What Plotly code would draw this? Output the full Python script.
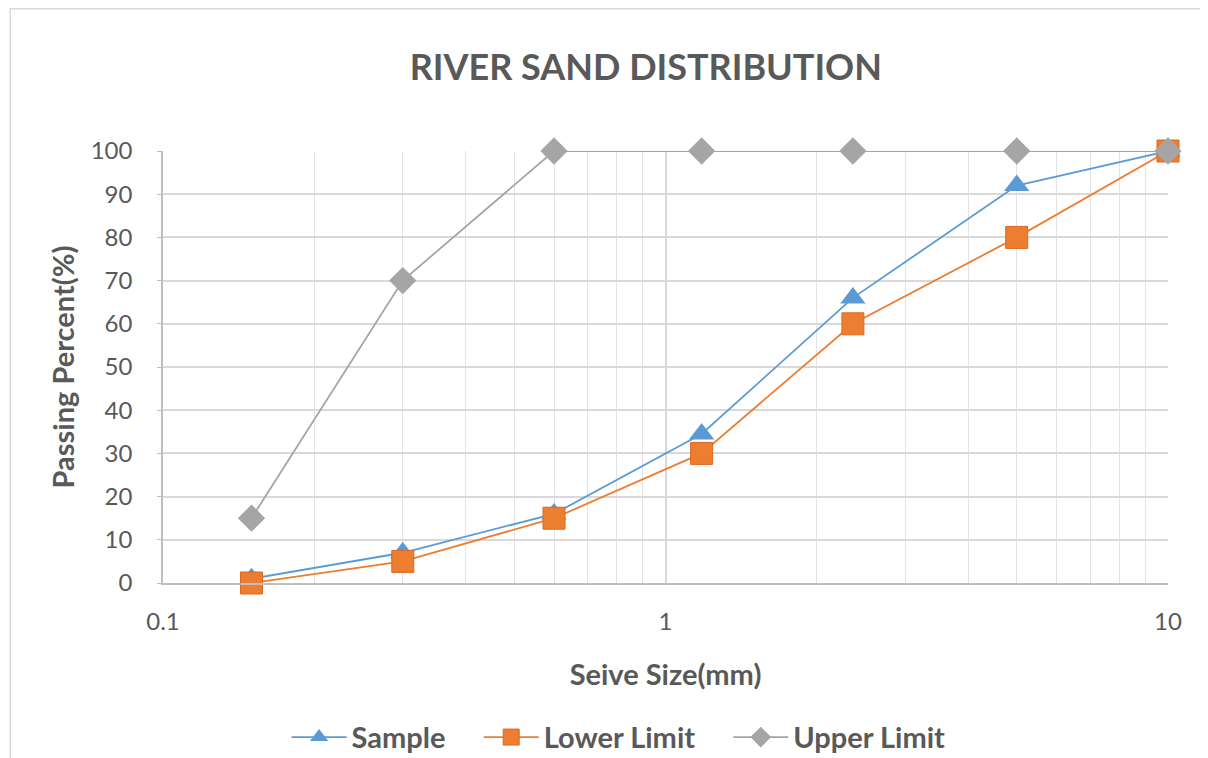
import plotly.graph_objects as go

sieve_sizes = [0.15, 0.3, 0.6, 1.18, 2.36, 5, 10]
sample = [1, 7, 16, 34.5, 66, 92, 100]
lower_limit = [0, 5, 15, 30, 60, 80, 100]
upper_limit = [15, 70, 100, 100, 100, 100, 100]

x_tickvals = [0.1, 1, 10]
x_ticktext = ["0.1", "1", "10"]

FONT = "Lato"
GREY_TXT = "#595959"
PAD = "\u00a0" * 4

fig = go.Figure()

fig.add_trace(go.Scatter(
    x=sieve_sizes, y=sample, name="Sample" + PAD, mode="lines+markers",
    line=dict(color="#5B9BD5", width=1.8),
    marker=dict(symbol="triangle-up", size=22, color="#5B9BD5"),
    cliponaxis=False,
))
fig.add_trace(go.Scatter(
    x=sieve_sizes, y=lower_limit, name="Lower Limit" + PAD, mode="lines+markers",
    line=dict(color="#ED7D31", width=1.8),
    marker=dict(symbol="square", size=22, color="#ED7D31",
                line=dict(color="#D86A20", width=1)),
    cliponaxis=False,
))
fig.add_trace(go.Scatter(
    x=sieve_sizes, y=upper_limit, name="Upper Limit", mode="lines+markers",
    line=dict(color="#A5A5A5", width=1.8),
    marker=dict(symbol="diamond", size=21, color="#A5A5A5"),
    cliponaxis=False,
))

fig.update_layout(
    width=1208, height=758,
    paper_bgcolor="white", plot_bgcolor="white",
    margin=dict(l=155, r=48, t=143, b=183, autoexpand=False),
    font=dict(family=FONT, color=GREY_TXT, size=24),
    title=dict(text="<b>RIVER SAND DISTRIBUTION</b>", x=0.528, xanchor="center",
               y=0.922, yanchor="middle",
               font=dict(family=FONT, size=36, color=GREY_TXT)),
    showlegend=True,
    legend=dict(orientation="h", x=0.123, xanchor="left", y=-0.357, yanchor="middle",
                font=dict(family=FONT, size=29, color=GREY_TXT, weight="bold"),
                itemwidth=55, tracegroupgap=0),
    shapes=[dict(type="rect", xref="paper", yref="paper",
                 x0=-0.152, x1=1.06, y0=-0.45, y1=1.329,
                 line=dict(color="#D9D9D9", width=1.5), layer="below")],
)

fig.update_xaxes(
    type="log", range=[-1, 1], automargin=False,
    tickvals=x_tickvals, ticktext=x_ticktext,
    showgrid=True, gridcolor="#D9D9D9", gridwidth=1.5,
    minor=dict(dtick="D1", showgrid=True, gridcolor="#E3E3E3", gridwidth=1.2, ticks=""),
    showline=True, linecolor="#BFBFBF", linewidth=1.5,
    zeroline=False, ticks="", ticklabelstandoff=16,
    tickfont=dict(family=FONT, size=24, color=GREY_TXT),
    title=dict(text="<b>Seive Size(mm)</b>", standoff=31,
               font=dict(family=FONT, size=29, color=GREY_TXT)),
)
fig.update_yaxes(
    range=[0, 100], dtick=10, automargin=False,
    showgrid=True, gridcolor="#D9D9D9", gridwidth=1.5,
    showline=True, linecolor="#BFBFBF", linewidth=1.5,
    zeroline=False, ticks="outside", ticklen=4, tickcolor="#BFBFBF",
    ticklabelstandoff=20,
    tickfont=dict(family=FONT, size=24, color=GREY_TXT),
    title=dict(text="<b>Passing Percent(%)</b>", standoff=8,
               font=dict(family=FONT, size=29, color=GREY_TXT)),
)

fig.write_html("out.html")
